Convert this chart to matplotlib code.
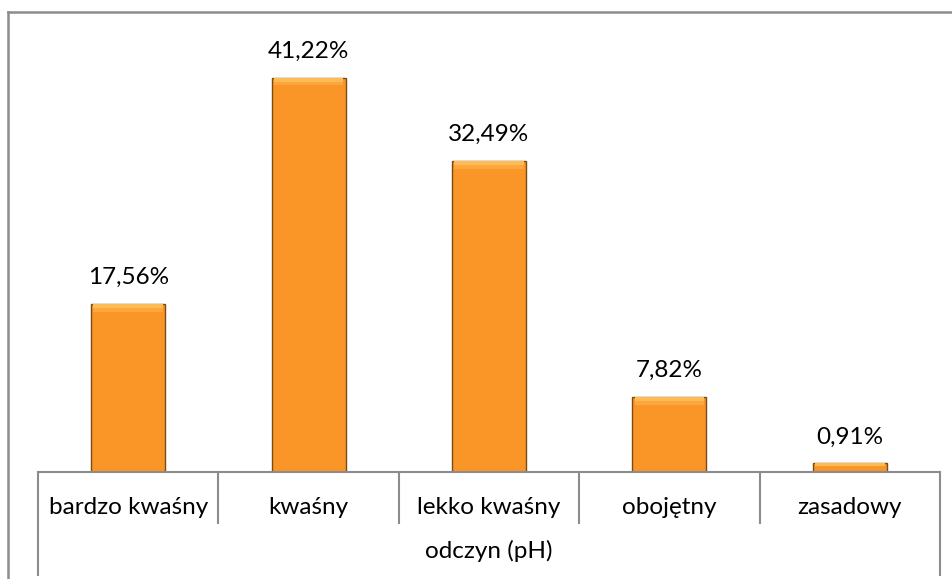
"""Rozkład odczynu gleby (pH) - wykres słupkowy."""

import matplotlib.pyplot as plt
from matplotlib.lines import Line2D

categories = ["bardzo kwaśny", "kwaśny", "lekko kwaśny", "obojętny", "zasadowy"]
values = [17.56, 41.22, 32.49, 7.82, 0.91]
group_label = "odczyn (pH)"

plt.rcParams["font.family"] = ["Lato", "DejaVu Sans"]
GRAY = "#8c8c8c"
FS = 17.5

W, H = 953, 579
fig = plt.figure(figsize=(W / 100, H / 100), dpi=100)
ax = fig.add_axes([38 / W, (H - 472) / H, (940 - 38) / W, 442 / H])

xs = list(range(len(categories)))
ax.bar(xs, values, width=0.41, color="#fa9528", edgecolor="#7a4b12", linewidth=1.0)
# soft bevel along the top of each bar
for depth, col in ((0.8, "#fca63c"), (0.45, "#fdbb55")):
    h = [min(depth, v * 0.35) for v in values]
    ax.bar(xs, h, bottom=[v - d for v, d in zip(values, h)],
           width=0.385, color=col, linewidth=0)

ax.set_xlim(-0.5, len(categories) - 0.5)
ax.set_ylim(0, 46.2)
for s in ("top", "right", "left"):
    ax.spines[s].set_visible(False)
ax.spines["bottom"].set_color(GRAY)
ax.spines["bottom"].set_linewidth(1.5)
ax.set_xticks([])
ax.set_yticks([])

for x, v in zip(xs, values):
    ax.annotate(f"{v:.2f}%".replace(".", ","), (x, v), xytext=(0, 19),
                textcoords="offset points", ha="center", va="center", fontsize=FS)

tr = ax.get_xaxis_transform()
for i, b in enumerate([x - 0.5 for x in xs] + [xs[-1] + 0.5]):
    low = -103 / 442 if i in (0, len(xs)) else -51 / 442
    ax.plot([b, b], [0, low], color=GRAY, lw=1.5, transform=tr, clip_on=False)

for x, c in zip(xs, categories):
    ax.text(x, -35 / 442, c, transform=tr, ha="center", va="center", fontsize=FS)
ax.text((len(xs) - 1) / 2, -79 / 442, group_label, transform=tr,
        ha="center", va="center", fontsize=FS)

# chart frame
fig.add_artist(Line2D([8 / W, 1], [1 - 12 / H, 1 - 12 / H], color=GRAY, lw=1.8))
fig.add_artist(Line2D([8 / W, 8 / W], [0, 1 - 12 / H], color=GRAY, lw=1.8))

fig.savefig("out.png", dpi=100)
